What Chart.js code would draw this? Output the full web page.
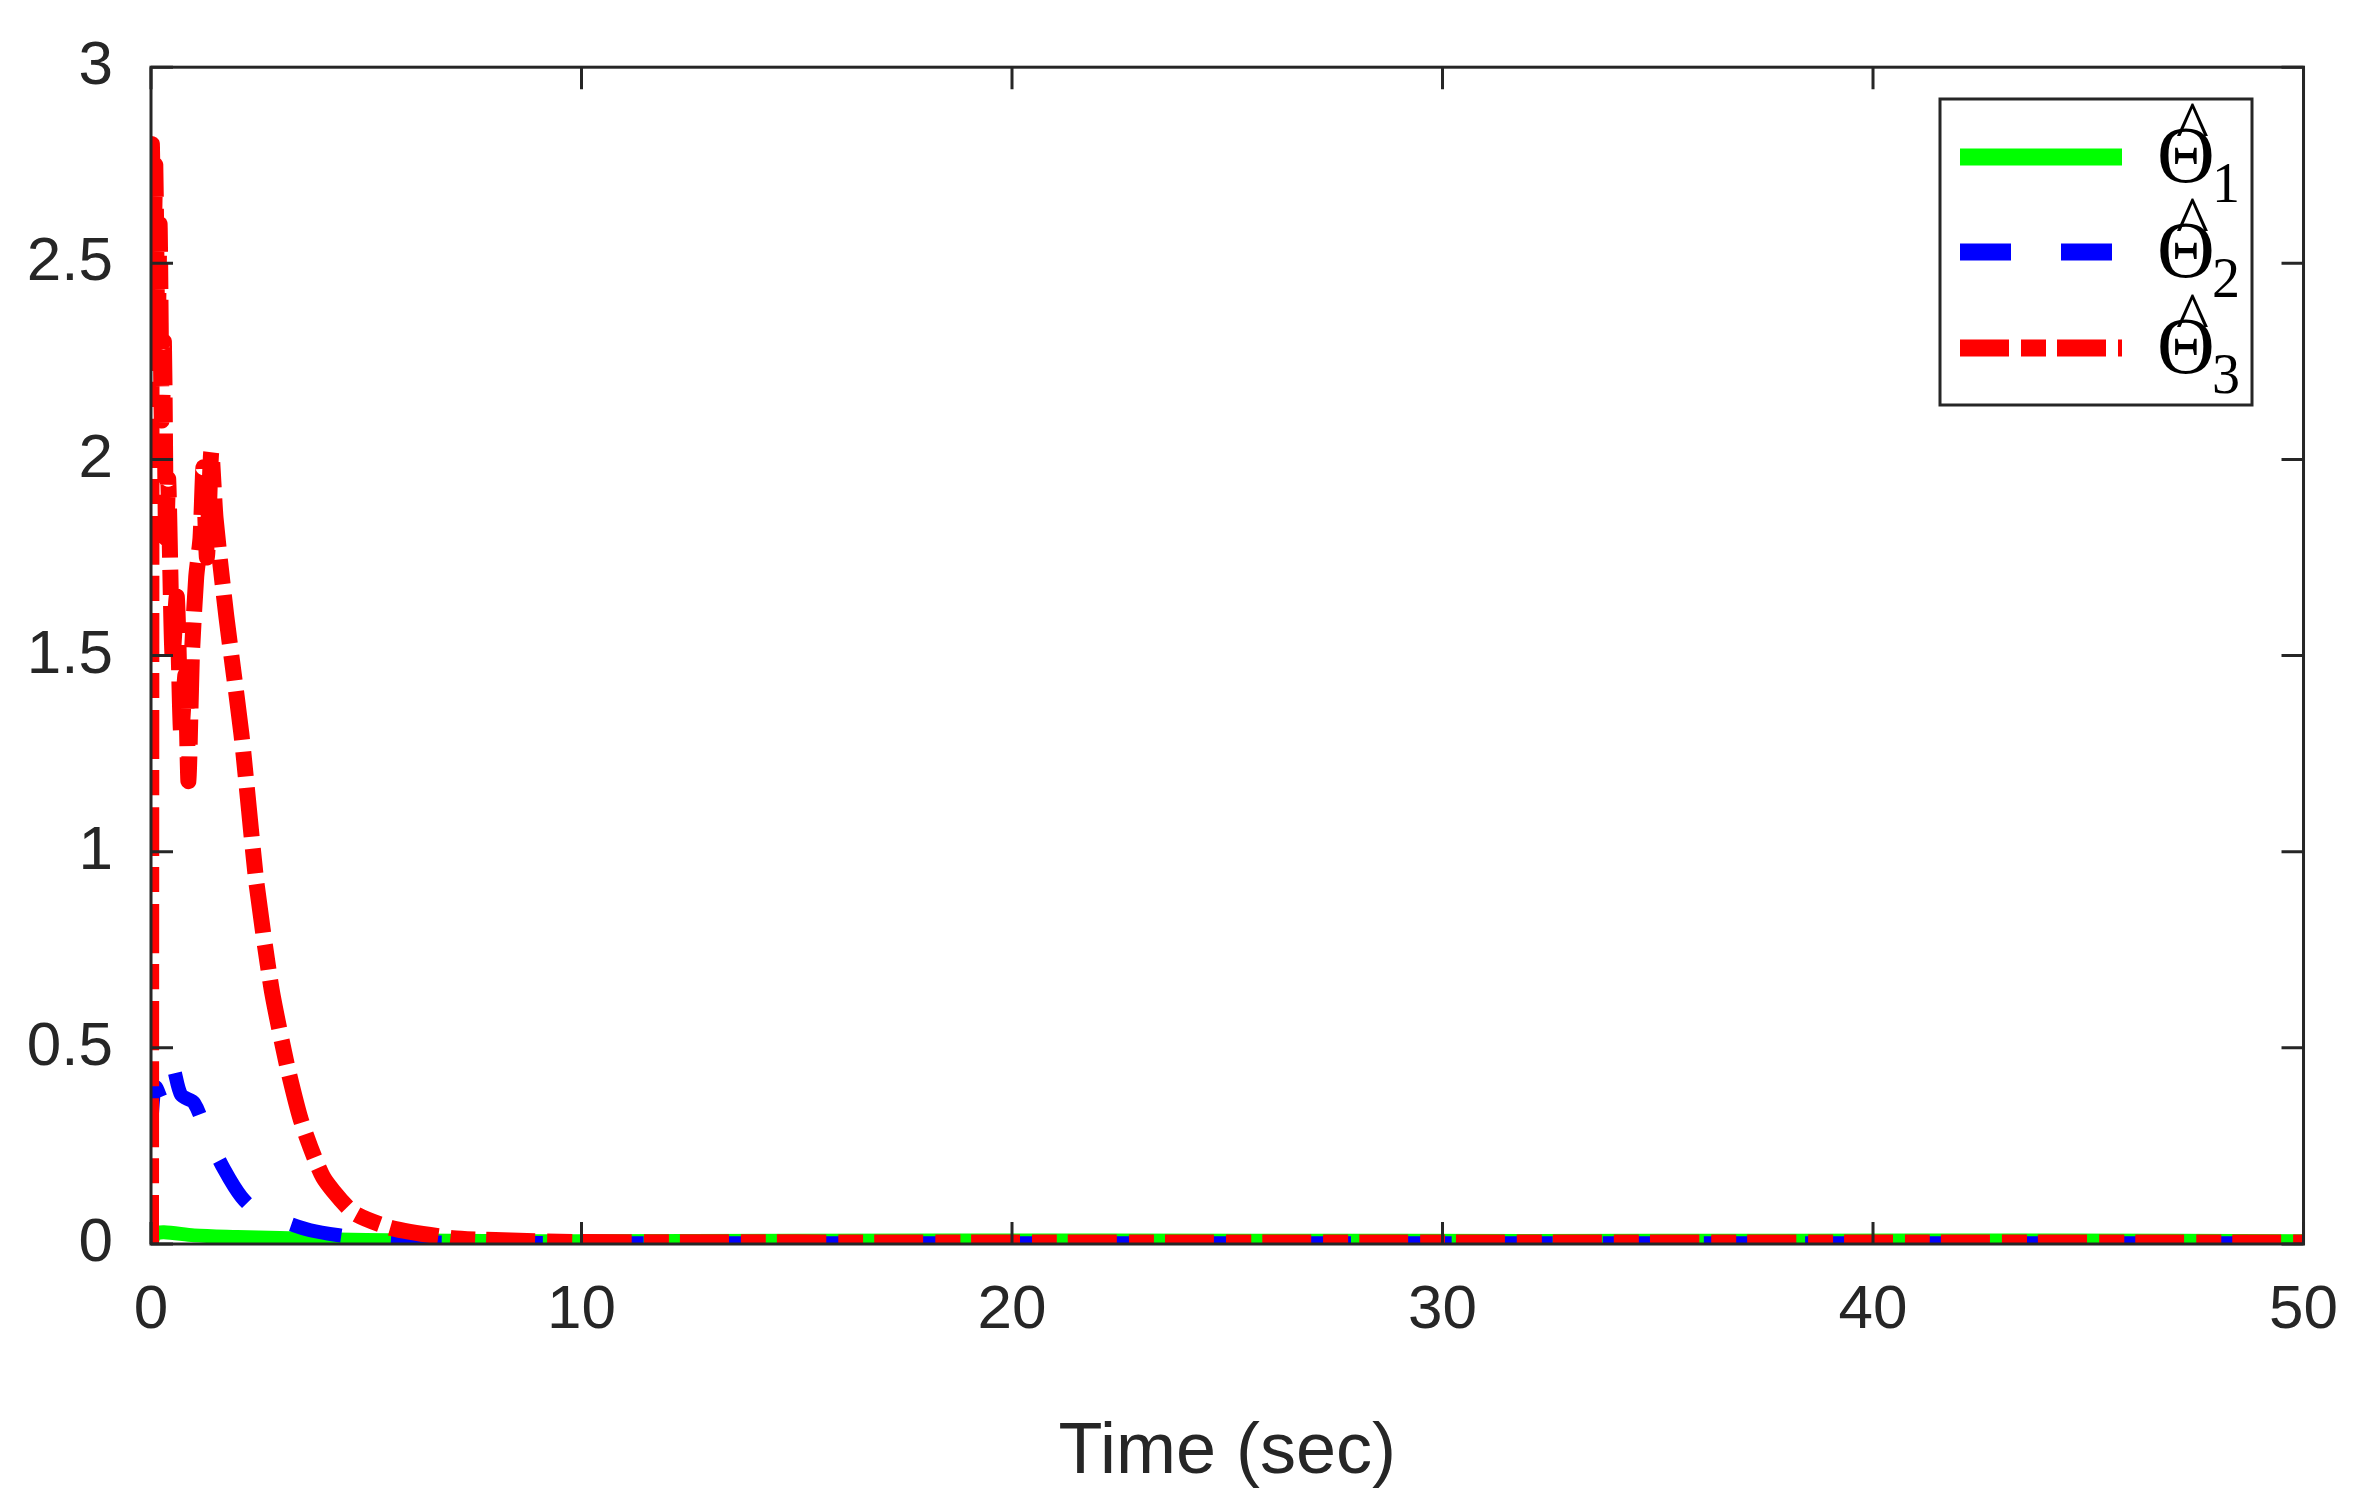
<!DOCTYPE html>
<html><head><meta charset="utf-8">
<script src="https://cdn.jsdelivr.net/npm/chart.js@4"></script>
<style>html,body{margin:0;padding:0;background:#fff}#w{width:2360px;height:1500px}</style>
</head><body><div id="w"><canvas id="c" width="2360" height="1500"></canvas></div>
<script>
const xTicks=[0,10,20,30,40,50];
const yTicks=[0,0.5,1,1.5,2,2.5,3];
const t3=[0,0.02,0.06,0.1,0.15,0.2,0.25,0.3,0.35,0.4,0.5,0.6,0.7,0.8,0.87,0.95,1.05,1.15,1.22,1.3,1.4,1.5,1.75,2.1,2.45,2.8,3.15,3.5,4,4.7,5.6,7,8,10,20,30,40,50];
const v3=[0,2.8,2.55,2.75,2.3,2.6,2.1,2.3,1.8,1.95,1.5,1.65,1.3,1.45,1.18,1.5,1.7,1.8,1.98,1.75,2.02,1.85,1.6,1.3,0.92,0.65,0.46,0.31,0.17,0.08,0.04,0.015,0.01,0.005,0.004,0.004,0.004,0.004];
const t2=[0,0.1,0.3,0.5,0.7,1.0,1.3,1.7,2.1,2.5,3.0,3.7,4.5,5.2,6,8,10,20,30,40,50];
const v2=[0.3,0.4,0.36,0.45,0.38,0.36,0.28,0.19,0.12,0.08,0.06,0.035,0.02,0.01,0.005,0.003,0.002,0.002,0.002,0.002,0.002];
const t1=[0,0.1,0.3,1,2,3,5,7,10,15,22,29,35,41,47,50];
const v1=[0,0.025,0.03,0.022,0.018,0.015,0.01,0.008,0.007,0.008,0.009,0.008,0.008,0.009,0.008,0.007];
const pts=(t,v)=>t.map((x,i)=>({x:x,y:v[i]}));
const L=151,R=2315,T=45,B=1244;
const frame={id:'frame',afterDraw(ch){
 const c=ch.ctx,a=ch.chartArea,xs=ch.scales.x,ys=ch.scales.y;
 c.save();c.strokeStyle='#262626';c.lineWidth=3;
 c.strokeRect(a.left,a.top,a.right-a.left,a.bottom-a.top);
 const tl=22;c.beginPath();
 xTicks.forEach(v=>{const p=xs.getPixelForValue(v);c.moveTo(p,a.bottom);c.lineTo(p,a.bottom-tl);c.moveTo(p,a.top);c.lineTo(p,a.top+tl);});
 yTicks.forEach(v=>{const p=ys.getPixelForValue(v);c.moveTo(a.left,p);c.lineTo(a.left+tl,p);c.moveTo(a.right,p);c.lineTo(a.right-tl,p);});
 c.stroke();
 // legend
 const bx=1940,by=99,bw=312,bh=306;
 c.fillStyle='#fff';c.fillRect(bx,by,bw,bh);c.strokeRect(bx,by,bw,bh);
 const rows=[[157,'#00ff00',[],'1'],[252,'#0000ff',[51,50],'2'],[348,'#ff0000',[49,12,25,11],'3']];
 rows.forEach(r=>{
  c.beginPath();c.strokeStyle=r[1];c.lineWidth=17;c.lineCap='butt';c.setLineDash(r[2]);
  c.moveTo(1960,r[0]);c.lineTo(2122,r[0]);c.stroke();c.setLineDash([]);
  c.fillStyle='#000';c.textBaseline='alphabetic';c.textAlign='left';
  c.font='80px "Liberation Serif"';c.fillText('Θ',2157,r[0]+25);
  c.font='70px "Liberation Serif"';c.fillText('^',2176,r[0]-8);
  c.font='56px "Liberation Serif"';c.fillText(r[3],2212,r[0]+45);
 });
 c.restore();
}};
new Chart(document.getElementById('c'),{
 type:'line',
 data:{datasets:[
  {data:pts(t1,v1),borderColor:'#00ff00',borderWidth:14,pointRadius:0,tension:0.3,order:3},
  {data:pts(t2,v2),borderColor:'#0000ff',borderWidth:14,borderDash:[51,50],pointRadius:0,tension:0.3,order:2},
  {data:pts(t3,v3),borderColor:'#ff0000',borderWidth:16,borderDash:[49,12,25,11],pointRadius:0,tension:0.2,order:1}
 ]},
 options:{responsive:false,animation:false,devicePixelRatio:1,
  layout:{padding:{top:T,right:2360-R,left:0,bottom:0}},
  plugins:{legend:{display:false},tooltip:{enabled:false}},
  scales:{
   x:{type:'linear',min:0,max:50,afterBuildTicks:s=>{s.ticks=xTicks.map(v=>({value:v}));},
    afterFit:s=>{s.height=1500-B;},grid:{display:false},border:{display:false},
    ticks:{color:'#262626',font:{family:'Liberation Sans',size:62},padding:22,maxRotation:0},
    title:{display:true,text:'Time (sec)',color:'#262626',font:{family:'Liberation Sans',size:72},padding:{top:10}}},
   y:{min:0,max:3,afterBuildTicks:s=>{s.ticks=yTicks.map(v=>({value:v}));},
    afterFit:s=>{s.width=L;},grid:{display:false},border:{display:false},
    ticks:{color:'#262626',font:{family:'Liberation Sans',size:62},padding:30,callback:v=>String(v)}}
  }},
 plugins:[frame]
});
</script></body></html>
